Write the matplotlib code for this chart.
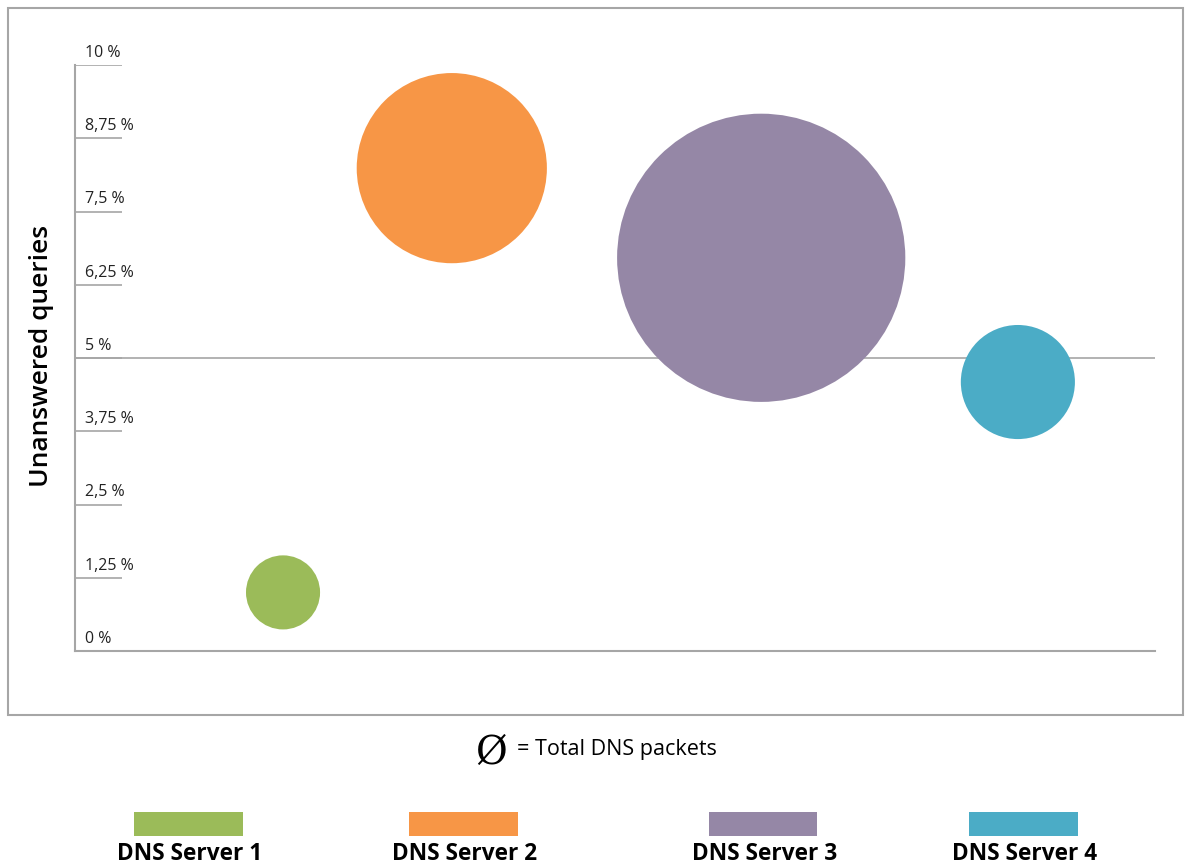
import matplotlib.pyplot as plt
from matplotlib.patches import Circle, Rectangle

plt.rcParams.update({"font.family": ["Open Sans", "DejaVu Sans"]})

servers = ["DNS Server 1", "DNS Server 2", "DNS Server 3", "DNS Server 4"]
colors = ["#9bbb59", "#f79646", "#9587a6", "#4bacc6"]
xpos = [3.55, 6.43, 11.71, 16.09]          # horizontal placement
unanswered = [1.0, 8.24, 6.71, 4.59]       # % unanswered queries
packets = [1.37, 9.03, 20.74, 3.25]        # total DNS packets (relative)
yticks = [0, 1.25, 2.5, 3.75, 5, 6.25, 7.5, 8.75, 10]
ylabels = ["0 %", "1,25 %", "2,5 %", "3,75 %", "5 %", "6,25 %", "7,5 %", "8,75 %", "10 %"]

W, H = 1186, 866
fig = plt.figure(figsize=(W / 100, H / 100), dpi=100)
GRAY = "#a6a6a6"

# outer frame
fig.add_artist(Rectangle((8 / W, 1 - 715 / H), 1175 / W, 707 / H, transform=fig.transFigure,
                         fill=False, edgecolor=GRAY, lw=1.5))

ax = fig.add_axes([75 / W, 1 - 651 / H, 1080 / W, 586 / H])
ax.set_xlim(0, 1080 / 58.6)
ax.set_ylim(0, 10)
ax.set_aspect("equal")
for s in ["top", "right"]:
    ax.spines[s].set_visible(False)
for s in ["left", "bottom"]:
    ax.spines[s].set_color(GRAY)
    ax.spines[s].set_linewidth(1.5)
ax.set_xticks([]); ax.set_yticks([])
ax.patch.set_visible(False)

ax.axhline(5, color=GRAY, lw=1.2, zorder=1)
ax.hlines(yticks, 0, 0.8, color=GRAY, lw=1.2, zorder=1)
for v, lab in zip(yticks, ylabels):
    ax.text(0.17, v + 0.07, lab, fontsize=11.5, va="bottom", ha="left", color="#222222")

k = 0.54
for x, y, p, c in zip(xpos, unanswered, packets, colors):
    ax.add_patch(Circle((x, y), k * p ** 0.5, color=c, lw=0, zorder=3))

fig.text(42 / W, 1 - 356 / H, "Unanswered queries", rotation=90, fontsize=19,
         fontweight="semibold", ha="center", va="center")

fig.text(491 / W, 1 - 753 / H, "Ø", fontsize=28, family="DejaVu Serif", ha="center", va="center")
fig.text(517 / W, 1 - 749 / H, "= Total DNS packets", fontsize=15.5, ha="left", va="center")

lx = [188, 463, 763, 1023]
for cx, name, c in zip(lx, servers, colors):
    fig.add_artist(Rectangle(((cx - 54.5) / W, 1 - 836 / H), 109 / W, 24 / H,
                             transform=fig.transFigure, color=c, lw=0))
    fig.text((cx + 2) / W, 1 - 854 / H, name, fontsize=16.3, fontweight="bold",
             ha="center", va="center")

fig.savefig("out.png", dpi=100)
